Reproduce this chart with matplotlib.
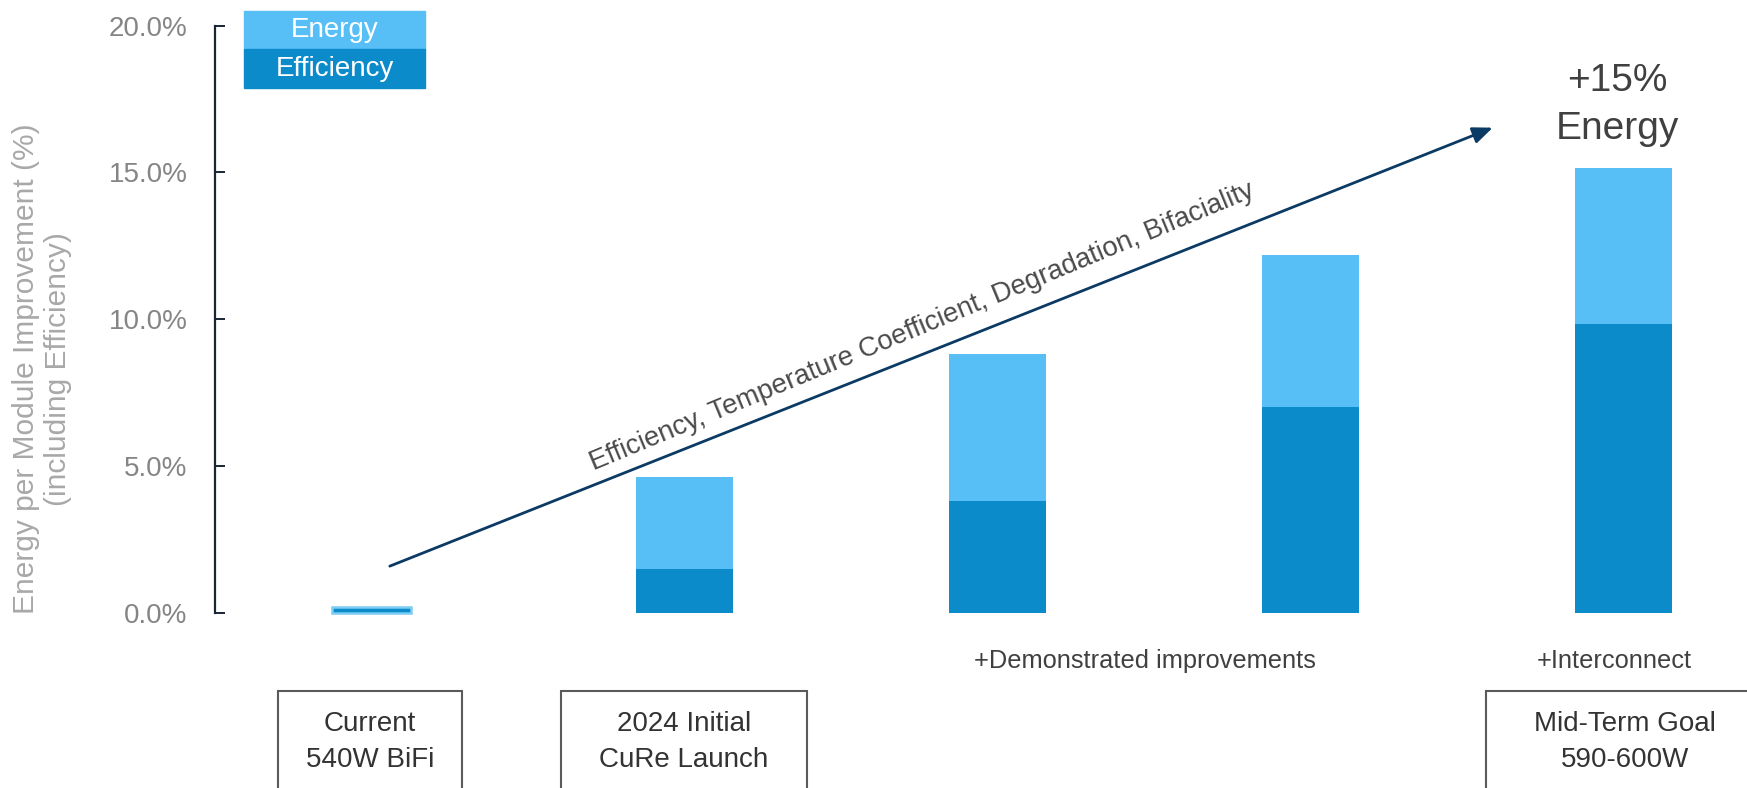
import matplotlib
matplotlib.use("Agg")
import matplotlib.pyplot as plt
from matplotlib.patches import Rectangle
from matplotlib.ticker import PercentFormatter

plt.rcParams['font.family'] = ['Liberation Sans', 'DejaVu Sans']

# stage positions and values (% energy gain per module)
stages = [0, 1, 2, 3, 4]
efficiency = [0.2, 1.5, 3.8, 7.0, 9.85]
energy_total = [0.2, 4.63, 8.83, 12.2, 15.15]
stage_boxes = {0: "Current\n540W BiFi", 1: "2024 Initial\nCuRe Launch", 4: "Mid-Term Goal\n590-600W"}
step_notes = {2.47: "+Demonstrated improvements", 3.97: "+Interconnect"}

light = "#58BFF6"
dark = "#0C8BCB"
navy = "#0B3A64"

fig = plt.figure(figsize=(17.47, 7.88), dpi=100)
ax = fig.add_axes([0.1231, 0.2221, 0.8769, 0.7454])

widths = [0.25, 0.31, 0.31, 0.31, 0.31]
extra = [t - e for t, e in zip(energy_total, efficiency)]
ax.bar(stages, efficiency, width=widths, color=dark, zorder=2)
ax.bar(stages[1:], extra[1:], bottom=efficiency[1:], width=widths[1:], color=light, zorder=2)
# the current module sits on the baseline, outlined in light blue
ax.patches[0].set_edgecolor("#7ACDF5")
ax.patches[0].set_linewidth(1.8)
ax.patches[0].set_clip_on(False)

ax.set_xlim(-0.5, 4.394)
ax.set_ylim(0, 20)
ax.set_yticks([0, 5, 10, 15, 20])
ax.yaxis.set_major_formatter(PercentFormatter(decimals=1))
ax.tick_params(axis='y', direction='in', length=7, width=1.4, color="#1b2536",
               labelsize=20, labelcolor="#858585", pad=20)
ax.set_xticks([])
for side in ['top', 'right', 'bottom']:
    ax.spines[side].set_visible(False)
ax.spines['left'].set_color("#1b2536")
ax.spines['left'].set_linewidth(1.6)

ax.set_ylabel("Energy per Module Improvement (%)\n(including Efficiency)",
              fontsize=21.5, color="#a8a8a8", linespacing=1.15, va='center')
ax.yaxis.set_label_coords(-0.113, 0.416)

# trend arrow with its caption
ax.annotate("", xy=(3.59, 16.56), xytext=(0.05, 1.56),
            arrowprops=dict(arrowstyle="-|>,head_length=1.2,head_width=0.5",
                            color=navy, lw=2), zorder=3)
ax.text(1.76, 9.75, "Efficiency, Temperature Coefficient, Degradation, Bifaciality",
        rotation=22.5, rotation_mode='anchor', ha='center', va='center',
        fontsize=19.8, color="#4a4a4a")

ax.text(3.98, 17.3, "+15%\nEnergy", ha='center', va='center', fontsize=28,
        color="#404040", linespacing=1.4)

# step notes and stage name boxes under the axis
for xpos, note in step_notes.items():
    ax.text(xpos, -1.65, note, ha='center', va='center', fontsize=18.3,
            color="#404040", clip_on=False)

box_spans = {0: (-0.3, 0.29), 1: (0.605, 1.39), 4: (3.56, 4.45)}
for pos, name in stage_boxes.items():
    x0, x1 = box_spans[pos]
    ax.add_patch(Rectangle((x0, -8), x1 - x0, 8 - 2.65, fill=False,
                           edgecolor="#5a5a5a", lw=1.5, clip_on=False))
    ax.text((x0 + x1) / 2, -4.4, name, ha='center', va='center', fontsize=20,
            color="#333333", linespacing=1.5, clip_on=False)

# legend swatches in the top-left corner
fig.patches.append(Rectangle((0.1397, 0.9378), 0.1036, 0.0482, color=light,
                             transform=fig.transFigure, figure=fig))
fig.patches.append(Rectangle((0.1397, 0.8883), 0.1036, 0.0495, color=dark,
                             transform=fig.transFigure, figure=fig))
fig.text(0.1915, 0.962, "Energy", ha='center', va='center', fontsize=20, color="white")
fig.text(0.1915, 0.913, "Efficiency", ha='center', va='center', fontsize=20, color="white")

fig.savefig("out.png", dpi=100)
